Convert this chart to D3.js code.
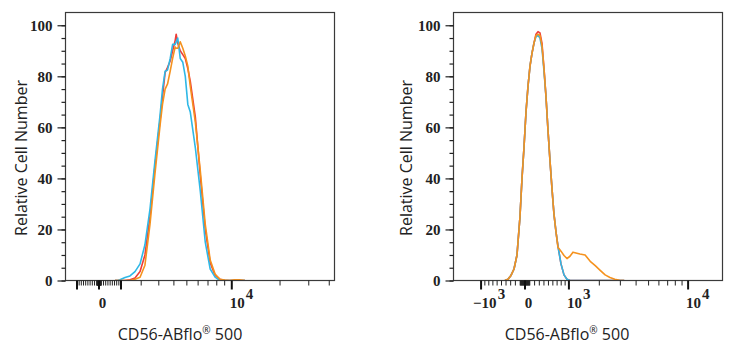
<!DOCTYPE html>
<html><head><meta charset="utf-8">
<script src="https://cdn.jsdelivr.net/npm/d3@7"></script>
<style>
html,body{margin:0;padding:0;background:#fff;}
svg{display:block;}
</style></head>
<body>
<svg id="chart" width="735" height="350"></svg>
<script>
// ---------- DATA ----------
// Left panel (fluorescence channel values, relative cell number)
const leftBins = [720, 860, 950, 1190, 1430, 1680, 1940, 2200, 2480, 2770, 3080, 3230, 3400, 3560, 3740, 3910, 4090, 4165, 4280, 4470, 4670, 4870, 5080, 5290, 5740, 6210, 6710, 7240, 7800, 8390, 9020, 9690, 10390, 11140, 12120];
const leftCyan   = [0, 0, 0.3, 1.2, 1.8, 3.5, 6.5, 14, 28, 47, 65, 75, 82, 82.5, 87, 92.5, 92.5, 93.5, 95, 87, 85.5, 80, 69, 66, 52, 35, 15, 4.5, 1.3, 0, 0, 0, 0, 0, 0];
const leftRed    = [0, 0, 0, 0, 0.3, 1, 3.5, 10, 25, 45, 63, 72, 81.5, 83.5, 86, 90, 94, 96.5, 93, 90, 88.5, 87, 83, 78, 64, 41, 20, 7, 2, 0.5, 0, 0, 0, 0, 0];
const leftOrange = [0, 0, 0, 0, 0, 0.5, 1.3, 6, 22, 42, 61, 69, 75, 77, 82, 87, 91.5, 91, 91, 93.5, 91, 88, 84, 76, 62, 43, 22, 8, 2.5, 0.5, 0.2, 0, 0.3, 0.3, 0];

// Right panel
const rightBins = [-423, -357, -293, -229, -166, -104, -62, -21, 21, 62, 104, 145, 187, 229, 272, 314, 357, 401, 445, 489, 534, 580, 626, 674, 721, 795, 871, 948, 1029, 1112, 1197, 1316, 1482, 1656, 1840, 2035, 2244, 2465, 2701, 2951, 3221];
const rightCyan   = [0, 0.5, 2, 4.5, 10, 25, 40, 52, 66, 76, 84, 89, 93, 95.5, 96, 95, 91, 82, 72, 59, 47, 36, 26, 19, 13.5, 6.5, 2.2, 0.5, 0, 0, 0, 0, 0, 0, 0, 0, 0, 0, 0, 0, 0];
const rightRed    = [0, 0.5, 2, 4.5, 10, 25, 40, 52, 66, 76, 84, 89, 93, 96.5, 97.5, 97, 93, 83, 72, 59, 47, 36, 26, 19, 13.5, 6.5, 2.2, 0.5, 0, 0, 0, 0, 0, 0, 0, 0, 0, 0, 0, 0, 0];
const rightOrange = [0, 0.5, 2, 4.5, 10, 25, 40, 52, 66, 76, 84, 89, 93, 96, 96.5, 96, 92, 83, 72, 59, 47, 36, 26, 19, 13, 11.5, 9.8, 8.6, 9.5, 11.1, 10.8, 10.4, 10, 7.5, 5.8, 4, 2.2, 1.2, 0.5, 0.1, 0];

// Axes
const yTicks = [0, 20, 40, 60, 80, 100];
const yLabels = ["0", "20", "40", "60", "80", "100"];
const yMinorTicks = d3.range(0, 105, 5);
const xMajorTicks = [-1000, 0, 1000, 10000];
const leftXLabels = [{v: 0, base: "0", exp: ""}, {v: 10000, base: "10", exp: "4"}];
const rightXLabels = [{v: -1000, base: "\u221210", exp: "3"}, {v: 0, base: "0", exp: ""}, {v: 1000, base: "10", exp: "3"}, {v: 10000, base: "10", exp: "4"}];
const xMinorTicks = [].concat(
  d3.range(-900, 0, 100), d3.range(100, 1000, 100),
  d3.range(-90, 100, 10),
  d3.range(2000, 10000, 1000), [20000, 30000, 40000]
);
const yTitle = "Relative Cell Number";
const xTitle = ["CD56-ABflo", "\u00AE", " 500"];
const colors = {red: "#ee3d38", orange: "#f5921e", cyan: "#2fb8e6"};

// ---------- DRAW ----------
const svg = d3.select("#chart");

function biexScale(cof, domain, range) {
  const t = v => Math.asinh(v / cof);
  const lin = d3.scaleLinear().domain(domain.map(t)).range(range);
  return v => lin(t(v));
}

const panels = [
  {x0: 65, x1: 334, cof: 3200, dom: [-1580, 42750], bins: leftBins,
   series: [[leftRed, colors.red], [leftCyan, colors.cyan], [leftOrange, colors.orange]],
   labels: leftXLabels, yTitleX: 27, xTitleX: 180},
  {x0: 453, x1: 722, cof: 1200, dom: [-1907, 18000], bins: rightBins,
   series: [[rightRed, colors.red], [rightCyan, colors.cyan], [rightOrange, colors.orange]],
   labels: rightXLabels, yTitleX: 412, xTitleX: 567}
];
const yTop = 12.5, yBot = 280.5;
const y = d3.scaleLinear().domain([0, 105]).range([yBot, yTop]);

panels.forEach(p => {
  const x = biexScale(p.cof, p.dom, [p.x0, p.x1]);
  const g = svg.append("g");

  // curves
  const clip = "clip" + p.x0;
  svg.append("clipPath").attr("id", clip).append("rect")
    .attr("x", p.x0).attr("y", yTop).attr("width", p.x1 - p.x0).attr("height", yBot - yTop);
  p.series.forEach(([vals, col]) => {
    const line = d3.line().x((d, i) => x(p.bins[i])).y(d => y(d));
    g.append("path").datum(vals)
      .attr("clip-path", `url(#${clip})`)
      .attr("d", line).attr("fill", "none").attr("stroke", col)
      .attr("stroke-width", 1.6).attr("stroke-linejoin", "round");
  });

  // frame
  g.append("rect").attr("x", p.x0 + 0.5).attr("y", yTop).attr("width", p.x1 - p.x0)
    .attr("height", yBot - yTop).attr("fill", "none").attr("stroke", "#3a3a3a").attr("stroke-width", 1.2);

  // y axis
  const yAxisMinor = d3.axisLeft(y).tickValues(yMinorTicks).tickSize(4).tickFormat("");
  const yAxis = d3.axisLeft(y).tickValues(yTicks).tickSize(8).tickPadding(5)
    .tickFormat((d, i) => yLabels[i]);
  const ga1 = g.append("g").attr("transform", `translate(${p.x0 + 0.5},0)`).call(yAxisMinor);
  const ga2 = g.append("g").attr("transform", `translate(${p.x0 + 0.5},0)`).call(yAxis);
  [ga1, ga2].forEach(a => { a.select(".domain").remove(); a.selectAll("line").attr("stroke", "#222").attr("stroke-width", 1.2); });
  ga2.selectAll("text").attr("font-family", "'Liberation Serif', serif").attr("font-weight", "bold")
    .attr("font-size", 15).attr("fill", "#222");

  // x axis ticks
  const inRange = v => x(v) >= p.x0 - 0.1 && x(v) <= p.x1 + 0.1;
  g.selectAll(".xminor").data(xMinorTicks.filter(inRange)).join("line")
    .attr("x1", d => x(d)).attr("x2", d => x(d)).attr("y1", yBot).attr("y2", yBot + 5)
    .attr("stroke", "#222").attr("stroke-width", 1);
  g.selectAll(".xmajor").data(xMajorTicks.filter(inRange)).join("line")
    .attr("x1", d => x(d)).attr("x2", d => x(d)).attr("y1", yBot).attr("y2", yBot + 9)
    .attr("stroke", "#111").attr("stroke-width", 2);

  // x tick labels
  p.labels.forEach(l => {
    const t = g.append("text").attr("y", 308)
      .attr("font-family", "'Liberation Serif', serif").attr("font-weight", "bold")
      .attr("font-size", 15).attr("fill", "#222");
    if (l.exp === "") {
      t.attr("x", x(l.v) + 3.5).attr("text-anchor", "middle").text(l.base);
    } else {
      const off = l.v < 0 ? -8 : -2;
      t.attr("x", x(l.v) + off).attr("text-anchor", "start");
      t.append("tspan").text(l.base);
      t.append("tspan").attr("dy", -9).attr("dx", 1).text(l.exp);
    }
  });

  // titles
  svg.append("text")
    .attr("transform", `translate(${p.yTitleX},158) rotate(-90)`)
    .attr("text-anchor", "middle").attr("font-family", "'Open Sans', sans-serif")
    .attr("font-size", 16).attr("fill", "#222").text(yTitle);
  const xt = svg.append("text").attr("x", p.xTitleX).attr("y", 340)
    .attr("text-anchor", "middle").attr("font-family", "'Open Sans', sans-serif")
    .attr("font-size", 16).attr("fill", "#222");
  xt.append("tspan").text(xTitle[0]);
  xt.append("tspan").attr("font-size", 10).attr("dy", -6).text(xTitle[1]);
  xt.append("tspan").attr("dy", 6).text(xTitle[2]);
});
</script>
</body></html>
